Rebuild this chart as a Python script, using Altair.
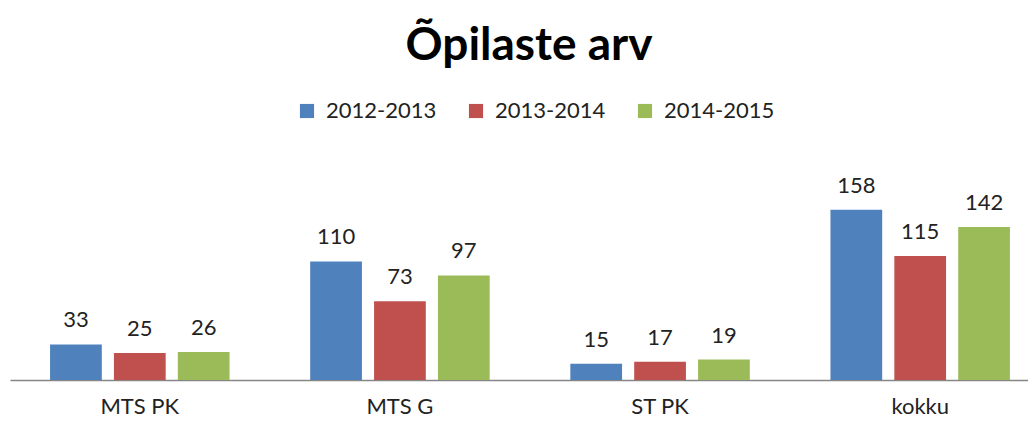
import altair as alt
import pandas as pd

categories = ["MTS PK", "MTS G", "ST PK", "kokku"]
series = ["2012-2013", "2013-2014", "2014-2015"]
s2012 = [33, 110, 15, 158]
s2013 = [25, 73, 17, 115]
s2014 = [26, 97, 19, 142]
colors = ["#4F81BD", "#C0504D", "#9BBB59"]

rows = []
for name, vals in zip(series, [s2012, s2013, s2014]):
    for c, v in zip(categories, vals):
        rows.append({"kategooria": c, "aasta": name, "arv": v})
df = pd.DataFrame(rows)

FONT = "Lato"

base = alt.Chart(df).encode(
    x=alt.X("kategooria:N", sort=categories, title=None,
            scale=alt.Scale(paddingInner=0.31, paddingOuter=0.154, range=[0, 1040]),
            axis=alt.Axis(labelAngle=0, ticks=False, domainColor="#868686",
                          domainWidth=1.5, labelFontSize=22, labelFont=FONT,
                          labelColor="#222222", labelPadding=16, grid=False)),
    xOffset=alt.XOffset("aasta:N", sort=series,
                        scale=alt.Scale(paddingInner=0.19, paddingOuter=0)),
    y=alt.Y("arv:Q", scale=alt.Scale(domain=[0, 180], nice=False), axis=None),
)

bars = base.mark_bar().encode(
    color=alt.Color("aasta:N", sort=series,
                    scale=alt.Scale(domain=series, range=colors),
                    legend=alt.Legend(title=None, orient="none", direction="horizontal",
                                      legendX=286, legendY=-86,
                                      symbolType="square", symbolSize=200,
                                      symbolStrokeWidth=0,
                                      labelFontSize=22, labelFont=FONT,
                                      labelColor="#222222", columnPadding=28,
                                      labelOffset=8)),
)

labels = base.mark_text(baseline="alphabetic", dy=-17, fontSize=22, font=FONT,
                        color="#222222").encode(text="arv:Q")

chart = (bars + labels).properties(
    width=1018,
    height=194,
    padding={"left": 2, "top": 178, "right": 0, "bottom": 37},
    autosize=alt.AutoSizeParams(type="none"),
    title=alt.TitleParams("Õpilaste arv", fontSize=46, font=FONT, fontWeight="bold",
                          color="#000000", anchor="middle", frame="group",
                          offset=30, dx=10),
).configure(background="white").configure_view(stroke=None, strokeWidth=0)

chart.save("out.html", embed_options={"renderer": "svg", "actions": False})
